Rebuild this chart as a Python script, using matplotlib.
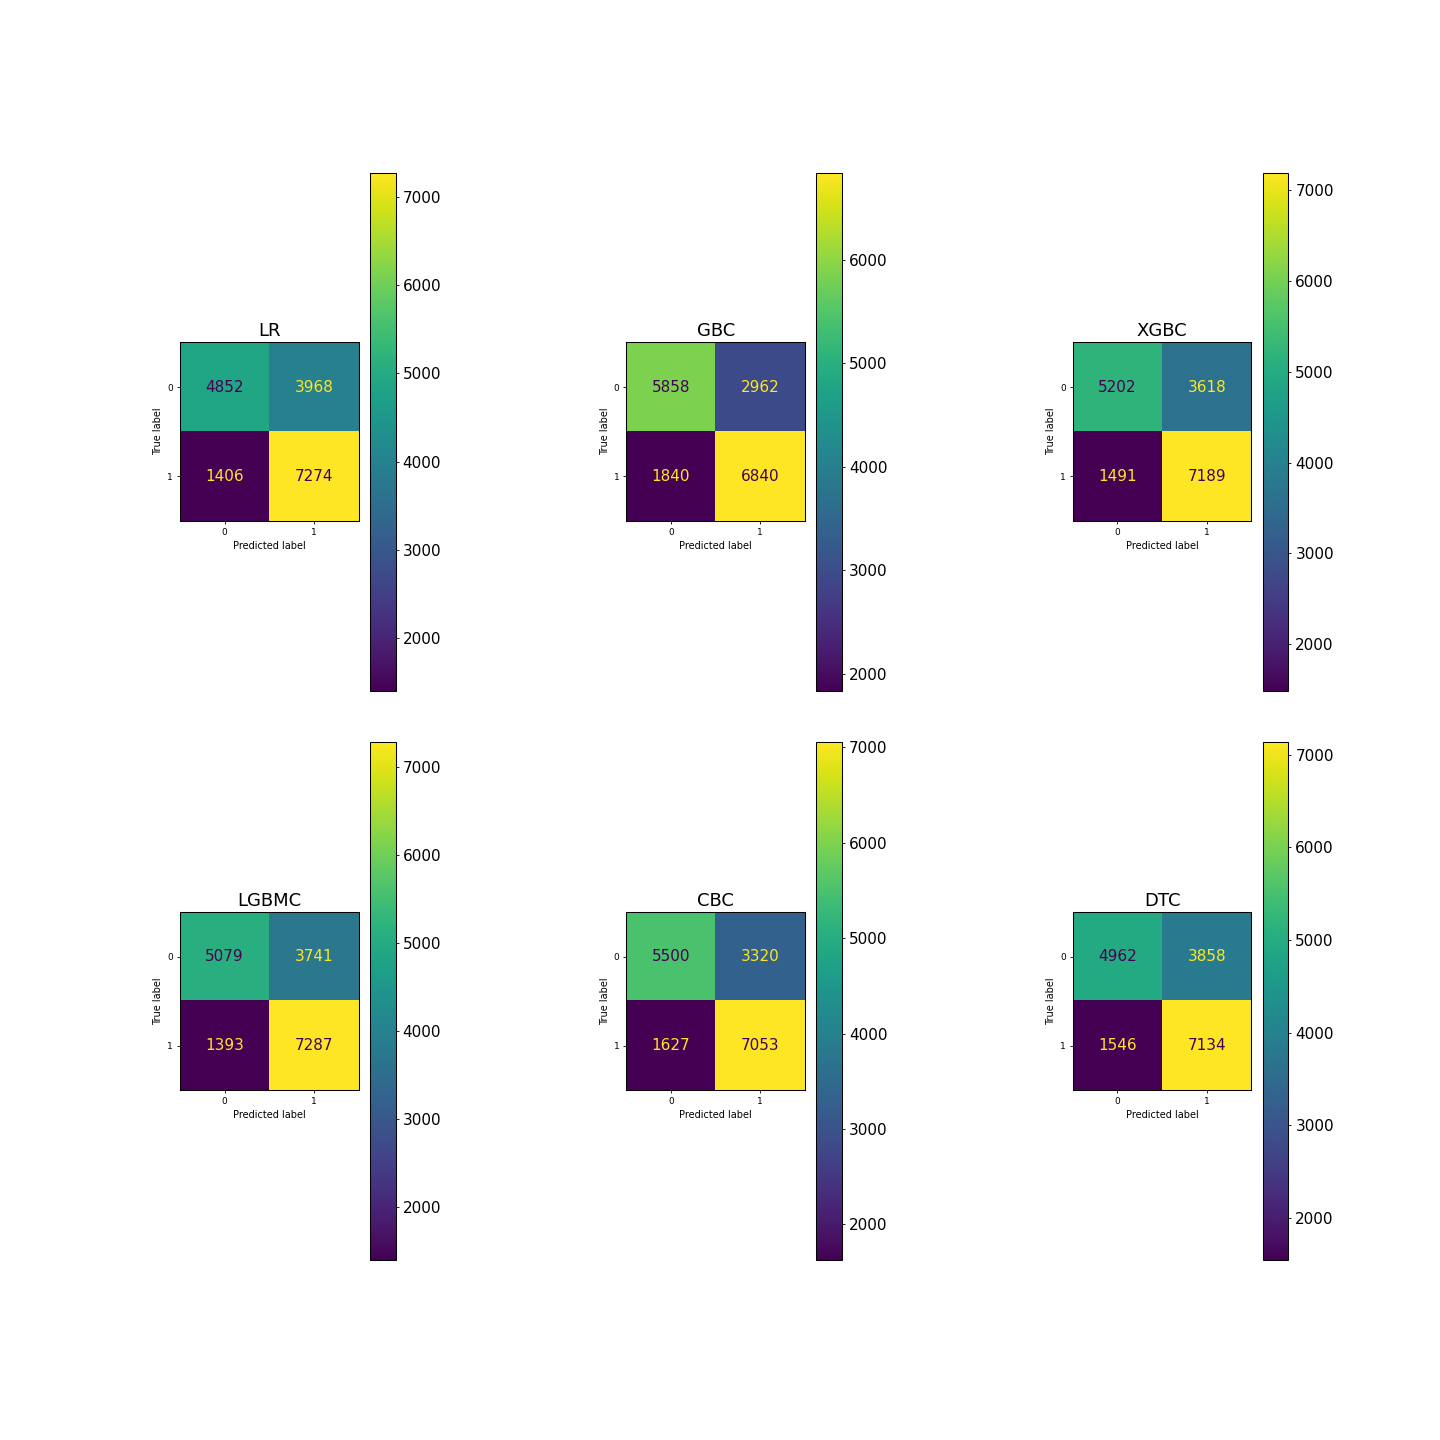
import numpy as np
import matplotlib.pyplot as plt

models = ['LR', 'GBC', 'XGBC', 'LGBMC', 'CBC', 'DTC']
cm_lr = [[4852, 3968], [1406, 7274]]
cm_gbc = [[5858, 2962], [1840, 6840]]
cm_xgbc = [[5202, 3618], [1491, 7189]]
cm_lgbmc = [[5079, 3741], [1393, 7287]]
cm_cbc = [[5500, 3320], [1627, 7053]]
cm_dtc = [[4962, 3858], [1546, 7134]]
matrices = [cm_lr, cm_gbc, cm_xgbc, cm_lgbmc, cm_cbc, cm_dtc]
class_labels = ['0', '1']

# thinner ticks / tighter pads, the original looks like a low-dpi render
plt.rcParams.update({
    'xtick.major.size': 2.5, 'ytick.major.size': 2.5,
    'xtick.major.pad': 2.5, 'ytick.major.pad': 2.5,
    'xtick.major.width': 0.6, 'ytick.major.width': 0.6,
    'axes.labelpad': 2.9, 'axes.titlepad': 4.3,
    'axes.linewidth': 0.75,
})

fig, axes = plt.subplots(2, 3, figsize=(14.4, 14.4), dpi=100)
plt.subplots_adjust(left=0.125, right=0.9, top=0.88, bottom=0.125, wspace=1.0, hspace=0.1)
cmap = plt.get_cmap('viridis')

for ax, name, cm in zip(axes.flat, models, matrices):
    cm = np.array(cm)
    im = ax.imshow(cm, interpolation='nearest', cmap=cmap)
    cmin, cmax = cm.min(), cm.max()
    thresh = (cmax + cmin) / 2.0
    for i in range(2):
        for j in range(2):
            color = cmap(0) if cm[i, j] > thresh else cmap(256)
            ax.text(j, i, str(cm[i, j]), ha='center', va='center', color=color, fontsize=11)
    cb = fig.colorbar(im, ax=ax)
    cb.outline.set_linewidth(0.75)
    cb.ax.tick_params(labelsize=11)
    ax.set_xticks(range(2))
    ax.set_yticks(range(2))
    ax.set_xticklabels(class_labels, fontsize=6.5)
    ax.set_yticklabels(class_labels, fontsize=6.5)
    ax.set_xlabel('Predicted label', fontsize=7)
    ax.set_ylabel('True label', fontsize=7)
    ax.set_ylim(1.5, -0.5)
    ax.set_title(name, fontsize=13)

plt.savefig('out.png')
